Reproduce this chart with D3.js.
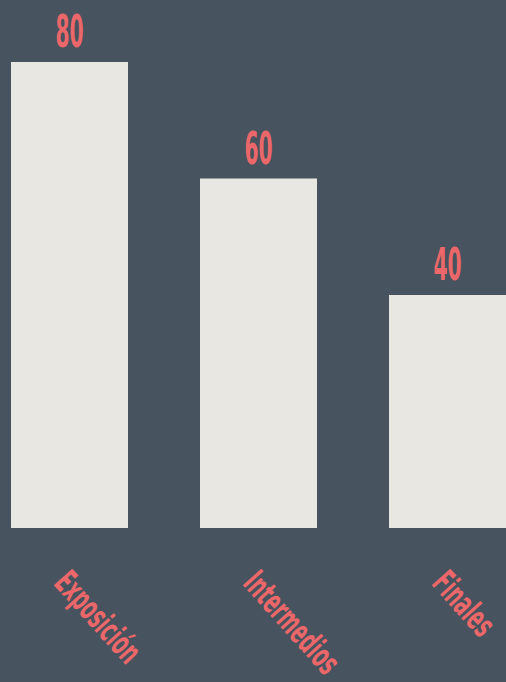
<!DOCTYPE html>
<html><head><meta charset="utf-8">
<script src="https://cdn.jsdelivr.net/npm/d3@7"></script>
<style>
html,body{margin:0;padding:0;background:#47535e;}
svg{display:block;}
</style></head>
<body>
<script>
const categories = ["Exposición", "Intermedios", "Finales"];
const values = [80, 60, 40];

const W = 506, H = 682;
const svg = d3.select("body").append("svg").attr("width", W).attr("height", H);
svg.append("rect").attr("width", W).attr("height", H).attr("fill", "#47535e");

const x = d3.scaleBand().domain(categories).range([11, 506]).paddingInner(0.381).paddingOuter(0);
const y = d3.scaleLinear().domain([0, 80]).range([528, 62]);

const font = "'DejaVu Sans Condensed', 'DejaVu Sans', sans-serif";

svg.selectAll("rect.bar").data(categories).enter().append("rect")
  .attr("class", "bar")
  .attr("x", d => x(d))
  .attr("y", (d, i) => y(values[i]))
  .attr("width", x.bandwidth())
  .attr("height", (d, i) => y(0) - y(values[i]))
  .attr("fill", "#e9e7e2");

svg.selectAll("text.val").data(categories).enter().append("text")
  .attr("class", "val")
  .attr("transform", (d, i) => `translate(${x(d) + x.bandwidth() / 2},${y(values[i]) - 15}) scale(0.5,1)`)
  .attr("text-anchor", "middle")
  .attr("font-family", font)
  .attr("font-weight", "bold")
  .attr("font-size", 45)
  .attr("fill", "#ec6769")
  .text((d, i) => values[i]);

svg.selectAll("text.cat").data(categories).enter().append("text")
  .attr("class", "cat")
  .attr("transform", d => `translate(${x(d) + x.bandwidth() / 2 - 17},${y(0) + 56}) rotate(48) scale(0.6,1)`)
  .attr("text-anchor", "start")
  .attr("font-family", font)
  .attr("font-weight", "bold")
  .attr("font-size", 34)
  .attr("fill", "#ec6769")
  .text(d => d);
</script>
</body></html>
